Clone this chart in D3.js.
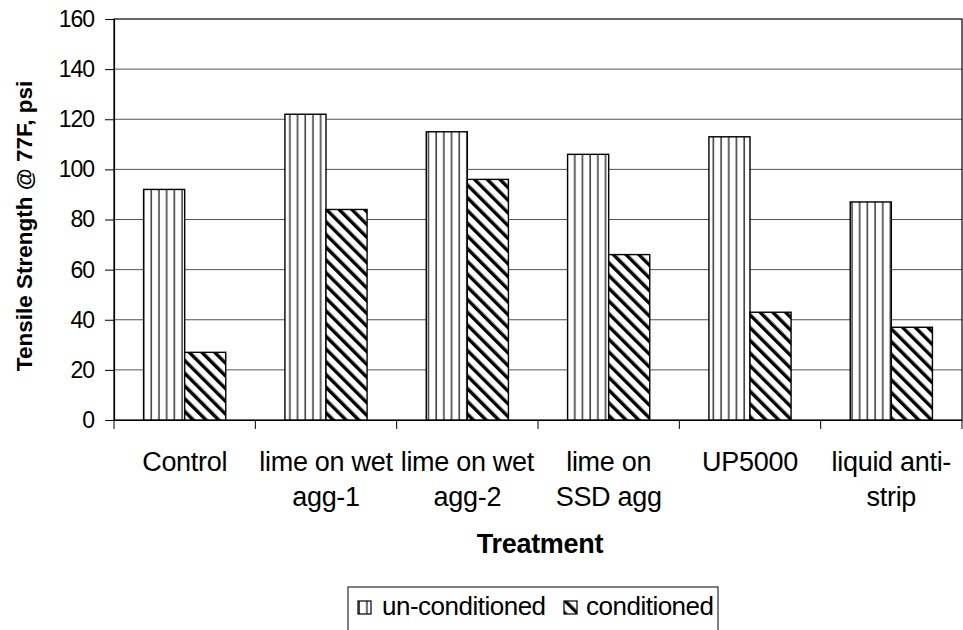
<!DOCTYPE html>
<html><head><meta charset="utf-8">
<script src="https://cdn.jsdelivr.net/npm/d3@7"></script>
<style>
html,body{margin:0;padding:0;background:#fff;}
text{font-family:"Liberation Sans",Arial,sans-serif;fill:#000;}
</style></head>
<body><svg id="c" width="963" height="630"></svg>
<script>
const categories = [["Control"],["lime on wet","agg-1"],["lime on wet","agg-2"],["lime on","SSD agg"],["UP5000"],["liquid anti-","strip"]];
const categoryKeys = ["Control","lime on wet agg-1","lime on wet agg-2","lime on SSD agg","UP5000","liquid anti-strip"];
const seriesNames = ["un-conditioned","conditioned"];
const unconditioned = [92,122,115,106,113,87];
const conditioned = [27,84,96,66,43,37];
const yTicks = [0,20,40,60,80,100,120,140,160];

const svg = d3.select("#c");
const m = {l:114, t:19, r:962, b:420};
const defs = svg.append("defs");
const pv = defs.append("pattern").attr("id","pv").attr("patternUnits","userSpaceOnUse")
  .attr("width",7.7).attr("height",10);
pv.append("rect").attr("width",7.7).attr("height",10).attr("fill","#fff");
pv.append("rect").attr("x",4.2).attr("width",1.6).attr("height",10).attr("fill","#444");
const pd = defs.append("pattern").attr("id","pd").attr("patternUnits","userSpaceOnUse")
  .attr("width",9).attr("height",9).attr("patternTransform","rotate(-45)");
pd.append("rect").attr("width",9).attr("height",9).attr("fill","#fff");
pd.append("rect").attr("x",0).attr("width",3.4).attr("height",9).attr("fill","#000");

const x = d3.scaleBand().domain(categoryKeys).range([m.l,m.r]).paddingInner(0).paddingOuter(0);
const xs = d3.scaleBand().domain(seriesNames).range([0,x.bandwidth()]).paddingInner(0).paddingOuter(0.72);
const y = d3.scaleLinear().domain([0,160]).range([m.b,m.t]);

// gridlines
svg.append("g").selectAll("line").data(yTicks.filter(d=>d>0 && d<160)).join("line")
  .attr("x1",m.l).attr("x2",m.r).attr("y1",d=>y(d)).attr("y2",d=>y(d))
  .attr("stroke","#555").attr("stroke-width",1);
// plot border
svg.append("rect").attr("x",m.l).attr("y",m.t).attr("width",m.r-m.l).attr("height",m.b-m.t)
  .attr("fill","none").attr("stroke","#000").attr("stroke-width",1.2);

// bars
const data = [unconditioned, conditioned];
const fills = ["url(#pv)","url(#pd)"];
seriesNames.forEach((s,si)=>{
  svg.append("g").selectAll("rect").data(categoryKeys).join("rect")
    .attr("x",(c)=>x(c)+xs(s))
    .attr("width",xs.bandwidth())
    .attr("y",(c,i)=>y(data[si][i]))
    .attr("height",(c,i)=>y(0)-y(data[si][i]))
    .attr("fill",fills[si]).attr("stroke","#000").attr("stroke-width",1.4);
});

// y axis
const ya = d3.axisLeft(y).tickValues(yTicks).tickSize(9).tickPadding(11).tickFormat(d3.format("d"));
const gy = svg.append("g").attr("transform",`translate(${m.l},0)`).call(ya);
gy.select(".domain").attr("stroke","#000").attr("stroke-width",1.2);
gy.selectAll(".tick line").attr("stroke","#000");
gy.selectAll("text").attr("font-size",23).attr("letter-spacing",-1).style("font-family","Liberation Sans, Arial, sans-serif");

// x axis
const xa = d3.axisBottom(x).tickSize(0).tickFormat("");
const gx = svg.append("g").attr("transform",`translate(0,${m.b})`).call(xa);
gx.select(".domain").attr("stroke","#000").attr("stroke-width",1.2);
const bounds = categoryKeys.map(c=>x(c)).concat([m.r]);
gx.selectAll(".sep").data(bounds).join("line").attr("class","sep")
  .attr("x1",d=>d).attr("x2",d=>d).attr("y1",0).attr("y2",9).attr("stroke","#000");
categories.forEach((lines,i)=>{
  const cx = x(categoryKeys[i])+x.bandwidth()/2;
  const t = svg.append("text").attr("x",cx).attr("y",471)
    .attr("text-anchor","middle").attr("font-size",27).attr("letter-spacing",-0.3);
  lines.forEach((l,j)=>t.append("tspan").attr("x",cx).attr("dy",j?35:0).text(l));
});

// axis titles
svg.append("text").attr("x",540).attr("y",553).attr("text-anchor","middle")
  .attr("font-size",27).attr("font-weight","bold").attr("letter-spacing",-0.3).text("Treatment");
svg.append("text").attr("transform","translate(32,226) rotate(-90)").attr("text-anchor","middle")
  .attr("font-size",22.5).attr("font-weight","bold").attr("letter-spacing",0).text("Tensile Strength @ 77F, psi");

// legend
const lg = svg.append("g");
lg.append("rect").attr("x",348).attr("y",587).attr("width",370).attr("height",60)
  .attr("fill","#fff").attr("stroke","#000").attr("stroke-width",1);
const lx = [358, 564];
const tx = [382, 586];
seriesNames.forEach((s,i)=>{
  lg.append("rect").attr("x",lx[i]).attr("y",601).attr("width",13).attr("height",13)
    .attr("fill",fills[i]).attr("stroke","#000").attr("stroke-width",1.2);
  lg.append("text").attr("x",tx[i]).attr("y",615).attr("font-size",26).attr("letter-spacing",-0.5).text(s);
});
</script></body></html>
